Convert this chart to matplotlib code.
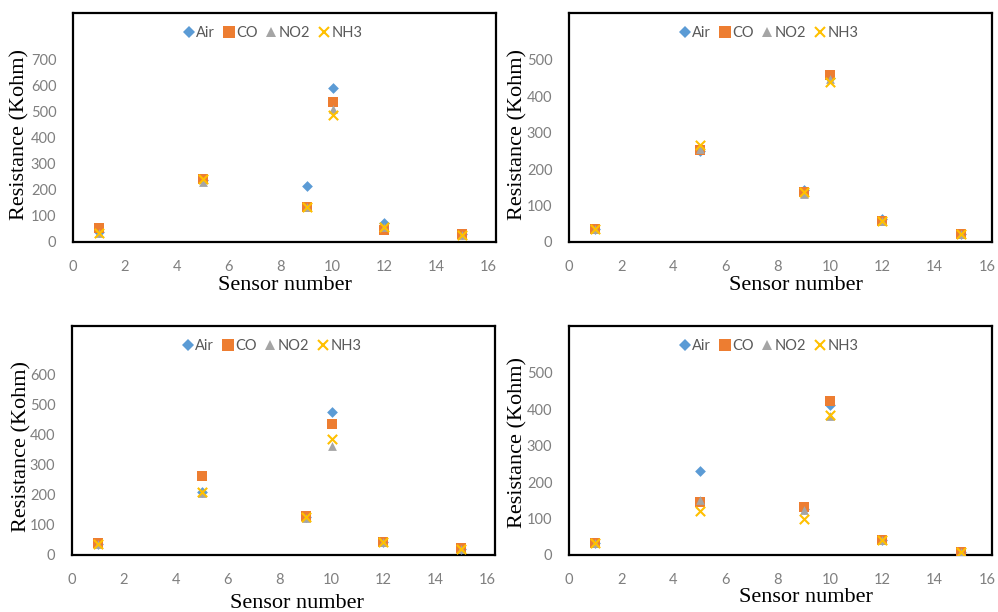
import matplotlib
matplotlib.use("Agg")
import matplotlib.pyplot as plt
from matplotlib.lines import Line2D

sensors = [1, 5, 9, 10, 12, 15]
series_names = ["Air", "CO", "NO2", "NH3"]

# Panel (a) top-left
p1_air = [40, 240, 217, 590, 73, 32]
p1_co = [55, 244, 135, 537, 47, 30]
p1_no2 = [35, 231, 135, 513, 58, 26]
p1_nh3 = [35, 244, 135, 488, 58, 26]

# Panel (b) top-right
p2_air = [36, 250, 144, 450, 62, 21]
p2_co = [37, 252, 138, 459, 58, 21]
p2_no2 = [35, 255, 133, 447, 58, 21]
p2_nh3 = [36, 266, 138, 440, 58, 21]

# Panel (c) bottom-left
p3_air = [35, 210, 125, 478, 42, 20]
p3_co = [39, 263, 130, 438, 42, 22]
p3_no2 = [35, 208, 122, 362, 42, 20]
p3_nh3 = [35, 211, 125, 385, 42, 20]

# Panel (d) bottom-right
p4_air = [32, 229, 125, 411, 41, 9]
p4_co = [32, 146, 133, 423, 41, 9]
p4_no2 = [32, 152, 123, 382, 41, 9]
p4_nh3 = [32, 121, 99, 384, 41, 9]

x_ticks = [0, 2, 4, 6, 8, 10, 12, 14, 16]
p1_yticks = [0, 100, 200, 300, 400, 500, 600, 700]
p2_yticks = [0, 100, 200, 300, 400, 500]
p3_yticks = [0, 100, 200, 300, 400, 500, 600]
p4_yticks = [0, 100, 200, 300, 400, 500]

colors = ["#5B9BD5", "#ED7D31", "#A5A5A5", "#FFC000"]
markers = ["D", "s", "^", "x"]
sizes = [30, 55, 40, 45]

fig = plt.figure(figsize=(9.98, 6.12), dpi=100)

panels = [
    ([73, 13, 496, 242], [p1_air, p1_co, p1_no2, p1_nh3], p1_yticks, 880, 16.3, (20, 134), (285, 285)),
    ([569, 13, 992, 242], [p2_air, p2_co, p2_no2, p2_nh3], p2_yticks, 629, 16.2, (518, 134), (796, 285)),
    ([72, 326, 495, 555], [p3_air, p3_co, p3_no2, p3_nh3], p3_yticks, 763, 16.3, (22, 446), (297, 603)),
    ([569, 326, 992, 555], [p4_air, p4_co, p4_no2, p4_nh3], p4_yticks, 628, 16.2, (518, 442), (806, 598)),
]

W, H = 998, 612
tick_color = "#7F7F7F"
tick_font = "Lato"
label_font = "Liberation Serif"

for box, data, yticks, ymax, xmax, ylab_pos, xlab_pos in panels:
    l, t, r, b = box
    ax = fig.add_axes([l / W, 1 - b / H, (r - l) / W, (b - t) / H])
    for vals, c, m, s, name in zip(data, colors, markers, sizes, series_names):
        if m == "x":
            ax.scatter(sensors, vals, marker=m, s=s, color=c, linewidths=1.5, label=name, zorder=3)
        else:
            ax.scatter(sensors, vals, marker=m, s=s, color=c, linewidths=0, label=name, zorder=3)
    ax.set_xlim(0, xmax)
    ax.set_ylim(0, ymax)
    ax.set_xticks(x_ticks)
    ax.set_yticks(yticks)
    ax.tick_params(length=0, colors=tick_color, labelsize=10.5)
    ax.tick_params(axis="x", pad=13)
    ax.tick_params(axis="y", pad=12)
    for lab in ax.get_xticklabels() + ax.get_yticklabels():
        lab.set_fontfamily(tick_font)
    for sp in ax.spines.values():
        sp.set_color("black")
        sp.set_linewidth(1.6)
    handles = [
        Line2D([], [], linestyle="none", marker=m, color=c, markersize=ms,
               markeredgewidth=(1.5 if m == "x" else 0), label=n)
        for m, c, n, ms in zip(markers, colors, series_names, [6, 8, 7, 7])
    ]
    leg = ax.legend(handles=handles, loc="upper center", bbox_to_anchor=(0.47, 1.0), ncol=4,
                    frameon=False, handletextpad=0.0, columnspacing=0.45, handlelength=1.0,
                    prop={"family": tick_font, "size": 10.5}, borderaxespad=0.5)
    for txt in leg.get_texts():
        txt.set_color("#595959")
    fig.text(ylab_pos[0] / W, 1 - ylab_pos[1] / H, "Resistance (Kohm)", rotation=90,
             ha="center", va="center", fontsize=16, family=label_font)
    fig.text(xlab_pos[0] / W, 1 - xlab_pos[1] / H, "Sensor number",
             ha="center", va="center", fontsize=16, family=label_font)

fig.savefig("out.png", dpi=100)
